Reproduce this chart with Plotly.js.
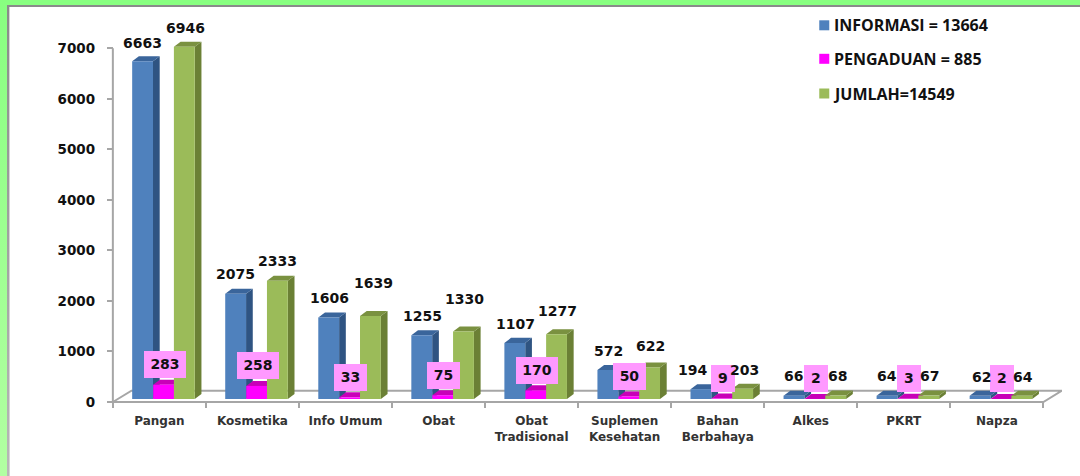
<!DOCTYPE html>
<html>
<head>
<meta charset="utf-8">
<script src="https://cdn.plot.ly/plotly-3.0.1.min.js"></script>
<style>
html,body{margin:0;padding:0;background:#fff;width:1080px;height:476px;overflow:hidden}
#greenTop{position:absolute;left:0;top:0;width:1080px;height:5px;background:#88ff80}
#greyTop{position:absolute;left:7px;top:5px;width:1073px;height:2px;background:#8a8a8a}
#greenLeft{position:absolute;left:0;top:0;width:7px;height:476px;background:linear-gradient(#88ff80,#b2ffa2)}
#greyLeft{position:absolute;left:7px;top:5px;width:2px;height:471px;background:linear-gradient(#8a8a8a,#b8b8b8)}
#greyLeft2{position:absolute;left:9px;top:7px;width:1px;height:469px;background:#d4d4d4}
#chart{position:absolute;left:0;top:0;width:1080px;height:476px}
</style>
</head>
<body>
<div id="greenTop"></div><div id="greenLeft"></div><div id="greyTop"></div><div id="greyLeft"></div><div id="greyLeft2"></div>
<div id="chart"></div>
<script>
// ---- data ----
const categories = ["Pangan","Kosmetika","Info Umum","Obat","Obat<br>Tradisional","Suplemen<br>Kesehatan","Bahan<br>Berbahaya","Alkes","PKRT","Napza"];
const informasi  = [6663,2075,1606,1255,1107,572,194,66,64,62];
const pengaduan  = [283,258,33,75,170,50,9,2,3,2];
const jumlah     = [6946,2333,1639,1330,1277,622,203,68,67,64];
const legendText = ["INFORMASI = 13664","PENGADUAN = 885","JUMLAH=14549"];
const yTicks     = [0,1000,2000,3000,4000,5000,6000,7000];

// ---- hand-placed label nudges in the reference (px) ----
const infoDX = [0,0,1,1,1,1,-8,0,0,1];
const infoDY = [18,20,20,19,19,19,19,20,20,19];
const jumDX  = [1,0,3,1,1,1,2,2,1,1];
const jumDY  = [19,20,33,33,23,21,19,20,20,19];

// ---- geometry / style ----
const W=1080,H=476,L=111.14,T=30,B=72,R=W-1061.6;
const plotW=W-L-R, plotH=H-T-B;
const scaleY=0.05053, scaleBar=0.0507, slackX=0.02, slackY=2;
const barW=0.224, offs=[-0.2925,-0.0667,0.156];
const depthX=0.072, depthY=99;
const faceCol=["#4f81bd","#ff00ff","#9bbb59"];
const sideCol=["#2f5482","#c000b0","#6b8035"];
const topCol =["#3a659b","#c800b8","#7a9140"];
const series=[informasi,pengaduan,jumlah];
const idx=categories.map((_,i)=>i);
const txt="#111111";
const fam='"DejaVu Sans", Verdana, sans-serif';
const legFam='"Open Sans", "DejaVu Sans", sans-serif';

const traces=series.map((vals,s)=>({
  type:"bar",x:categories,y:vals,yaxis:"y2",name:legendText[s],
  width:barW,offset:offs[s],cliponaxis:false,
  marker:{color:faceCol[s],line:{width:0}},hoverinfo:"x+y"
}));

const shapes=[];
// floor of the 3D box
const floorDY=224;
const gl={color:"#a6a6a6",width:2};
shapes.push({type:"path",xref:"x",yref:"y",layer:"below",line:gl,fillcolor:"#ffffff",
  path:`M -0.5 0 L -0.3 ${floorDY} L 9.7 ${floorDY} L 9.5 0 Z`});
// y axis line
shapes.push({type:"line",xref:"x",yref:"y",layer:"below",line:gl,x0:-0.5,x1:-0.5,y0:0,y1:7000});
// side and top faces of the bars
series.forEach((vals,s)=>{
  vals.forEach((v,i)=>{
    const a=i+offs[s], b=a+barW;
    shapes.push({type:"path",xref:"x",yref:"y2",layer:"below",line:{width:0},fillcolor:sideCol[s],
      path:`M ${b} ${v} L ${b+depthX} ${v+depthY} L ${b+depthX} ${depthY} L ${b} 0 Z`});
    shapes.push({type:"path",xref:"x",yref:"y2",layer:"below",line:{width:0},fillcolor:topCol[s],
      path:`M ${a} ${v} L ${a+depthX} ${v+depthY} L ${b+depthX} ${v+depthY} L ${b} ${v} Z`});
  });
});

const annotations=[];
// pink boxes first: the reference's numbers sit on top of them
idx.forEach(i=>{
  const n=String(pengaduan[i]).length;
  annotations.push({xref:"x",yref:"y2",x:i+offs[1]+barW/2,y:pengaduan[i],xshift:1,yshift:20,text:String(pengaduan[i]),showarrow:false,
    xanchor:"center",yanchor:"middle",width:[0,23.5,33,42][n],height:26.5,borderpad:0,borderwidth:0,align:"center",valign:"middle",
    bgcolor:"#ff99ff",font:{family:fam,size:14,color:txt,weight:700}});
});
function valueLabel(s,i,v,dx,dy){
  annotations.push({xref:"x",yref:"y2",x:i+offs[s]+barW/2,y:v,xshift:dx,yshift:dy,text:String(v),showarrow:false,
    xanchor:"center",yanchor:"middle",font:{family:fam,size:14,color:txt,weight:700}});
}
idx.forEach(i=>{
  valueLabel(0,i,informasi[i],infoDX[i],infoDY[i]);
  valueLabel(2,i,jumlah[i],jumDX[i],jumDY[i]);
});
// legend
const px=x=>(x-L)/plotW, py=y=>(H-B-y)/plotH;
const legY=[25.3,58.8,93.5], legTextY=[24.5,59.5,93.5], legTextX=[832,832,831];
legendText.forEach((t,s)=>{
  shapes.push({type:"rect",xref:"paper",yref:"paper",line:{width:0},fillcolor:faceCol[s],
    x0:px(819),x1:px(829),y0:py(legY[s]+5),y1:py(legY[s]-5)});
  annotations.push({xref:"paper",yref:"paper",x:px(legTextX[s]),y:py(legTextY[s]),text:t,showarrow:false,
    xanchor:"left",yanchor:"middle",font:{family:legFam,size:16,color:txt,weight:700}});
});

const layout={
  width:W,height:H,margin:{l:L,r:R,t:T,b:B,pad:0},
  paper_bgcolor:"rgba(0,0,0,0)",plot_bgcolor:"rgba(0,0,0,0)",
  showlegend:false,barmode:"overlay",
  xaxis:{type:"category",categoryorder:"array",categoryarray:categories,range:[-0.5-slackX,9.7],tickson:"boundaries",
    anchor:"free",position:slackY/plotH,ticklabelstandoff:10,
    showgrid:false,zeroline:false,showline:false,ticks:"outside",ticklen:5,tickwidth:2,tickcolor:"#a6a6a6",tickangle:0,
    tickfont:{family:fam,size:12,color:"#333333",weight:700},automargin:false,fixedrange:true},
  yaxis:{range:[-slackY/scaleY,(H-B-slackY-T)/scaleY],tickmode:"array",tickvals:yTicks,ticktext:yTicks.map(String),
    anchor:"free",position:(-L+113)/plotW,ticklabelstandoff:9,
    showgrid:false,zeroline:false,showline:false,ticks:"outside",ticklen:6,tickwidth:2,tickcolor:"#a6a6a6",
    tickfont:{family:fam,size:13.5,color:txt,weight:700},automargin:false,fixedrange:true},
  yaxis2:{overlaying:"y",side:"left",visible:false,range:[-(H-B-399)/scaleBar,(399-T)/scaleBar],fixedrange:true},
  shapes,annotations
};
Plotly.newPlot("chart",traces,layout,{displayModeBar:false,staticPlot:true});
</script>
</body>
</html>
